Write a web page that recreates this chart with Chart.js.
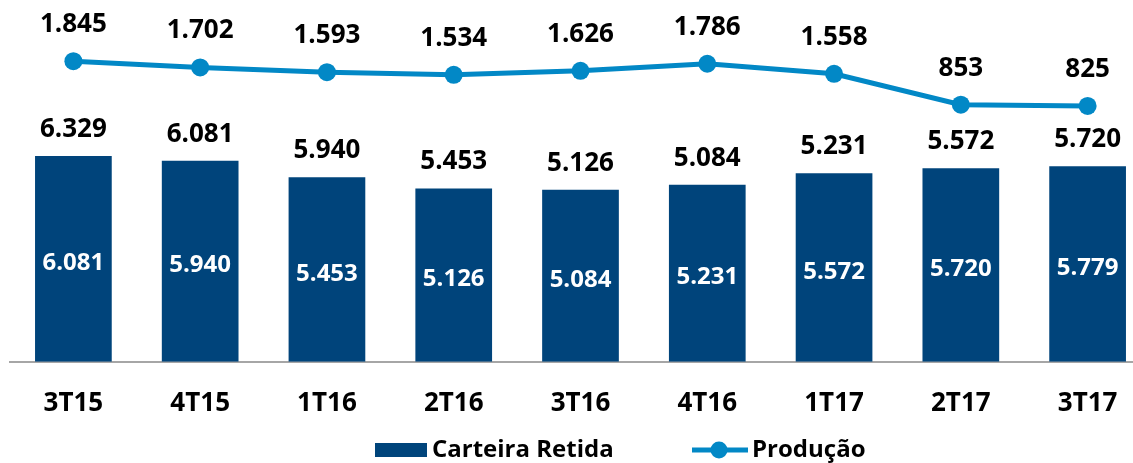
<!DOCTYPE html>
<html>
<head>
<meta charset="utf-8">
<script src="https://cdn.jsdelivr.net/npm/chart.js@4"></script>
<style>
  html, body { margin: 0; padding: 0; background: #fff; overflow: hidden; }
  #wrap { width: 1160px; height: 463px; }
</style>
</head>
<body>
<div id="wrap"><canvas id="chart" width="1160" height="463"></canvas></div>
<script>
const trimestres = ['3T15', '4T15', '1T16', '2T16', '3T16', '4T16', '1T17', '2T17', '3T17']
const carteiraRetida = [6081, 5940, 5453, 5126, 5084, 5231, 5572, 5720, 5779]
const carteiraInicio = [6329, 6081, 5940, 5453, 5126, 5084, 5231, 5572, 5720]
const producao = [1845, 1702, 1593, 1534, 1626, 1786, 1558, 853, 825]

const azulEscuro = '#00447B'
const azulClaro = '#0288C6'
const fonte = '"Open Sans", "Liberation Sans", sans-serif'

// 6081 -> "6.081"
function fmt(v){
  return String(v).replace(/\B(?=(\d{3})+(?!\d))/g, '.')
}

const rotulos = {
  id: 'rotulos',
  afterDatasetsDraw(chart){
    const ctx = chart.ctx
    const barras = chart.getDatasetMeta(0).data
    const pontos = chart.getDatasetMeta(1).data
    ctx.save()
    ctx.textAlign = 'center'
    ctx.textBaseline = 'alphabetic'
    barras.forEach((b, i)=>{
      ctx.font = 'bold 26px ' + fonte
      ctx.fillStyle = '#000'
      ctx.fillText(fmt(carteiraInicio[i]), b.x, b.y - 19)
      ctx.font = 'bold 24px ' + fonte
      ctx.fillStyle = '#fff'
      ctx.fillText(fmt(carteiraRetida[i]), b.x, (b.y + b.base) / 2 + 11)
    })
    ctx.font = 'bold 26px ' + fonte
    ctx.fillStyle = '#000'
    pontos.forEach((p, i)=>{
      ctx.fillText(fmt(producao[i]), p.x, p.y - 29)
    })
    ctx.restore()
  },
  afterDraw(chart){
    // legenda desenhada a mao (linha com ponto no meio)
    const ctx = chart.ctx
    ctx.save()
    ctx.fillStyle = azulEscuro
    ctx.fillRect(375, 443, 52, 14)
    ctx.strokeStyle = azulClaro
    ctx.lineWidth = 5
    ctx.beginPath()
    ctx.moveTo(692, 450)
    ctx.lineTo(748, 450)
    ctx.stroke()
    ctx.fillStyle = azulClaro
    ctx.beginPath()
    ctx.arc(719, 450, 8.5, 0, Math.PI * 2)
    ctx.fill()
    ctx.font = 'bold 24px ' + fonte
    ctx.fillStyle = '#000'
    ctx.textAlign = 'left'
    ctx.textBaseline = 'alphabetic'
    ctx.fillText(chart.data.datasets[0].label, 432, 457)
    ctx.fillText(chart.data.datasets[1].label, 752, 457)
    ctx.restore()
  }
}

window.onload = ()=>{
  const ctx = document.getElementById('chart').getContext('2d')
  new Chart(ctx, {
    type: 'bar',
    data: {
      labels: trimestres,
      datasets: [
        {
          label: 'Carteira Retida',
          data: carteiraRetida,
          backgroundColor: azulEscuro,
          yAxisID: 'y',
          barPercentage: 0.605,
          categoryPercentage: 1,
          order: 2
        },
        {
          type: 'line',
          label: 'Produção',
          data: producao,
          borderColor: azulClaro,
          backgroundColor: azulClaro,
          borderWidth: 5,
          pointRadius: 9,
          pointBorderWidth: 0,
          pointBackgroundColor: azulClaro,
          tension: 0,
          yAxisID: 'y2',
          order: 1
        }
      ]
    },
    options: {
      responsive: false,
      animation: false,
      layout: { padding: { top: 10, left: 10, right: 4, bottom: 18 } },
      plugins: {
        legend: { display: false },
        tooltip: { enabled: false }
      },
      scales: {
        x: {
          grid: { display: false, drawTicks: false, tickLength: 0 },
          border: { display: true, color: '#A6A6A6', width: 2 },
          ticks: {
            color: '#000',
            padding: 26,
            font: { family: fonte, size: 26, weight: 'bold' }
          }
        },
        y: { display: false, min: 0, max: 10400 },
        y2: { display: false, min: -5000, max: 3010 }
      }
    },
    plugins: [rotulos]
  })
}
</script>
</body>
</html>
